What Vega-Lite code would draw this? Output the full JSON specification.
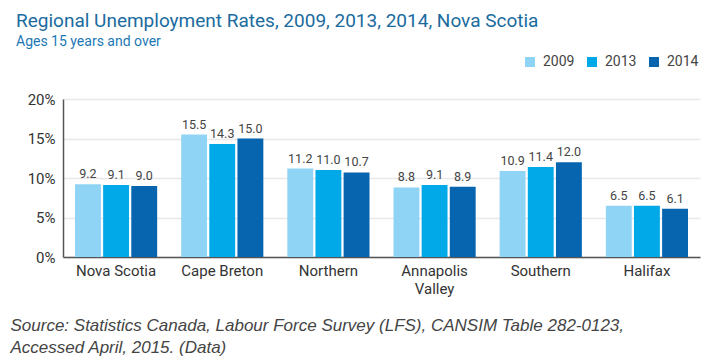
{
  "$schema": "https://vega.github.io/schema/vega-lite/v6.json",
  "autosize": {"type": "none"},
  "width": 637,
  "height": 158,
  "padding": {"left": 63, "top": 99, "right": 20, "bottom": 103},
  "background": "white",
  "title": {
    "text": "Regional Unemployment Rates, 2009, 2013, 2014, Nova Scotia",
    "subtitle": "Ages 15 years and over",
    "anchor": "start",
    "frame": "group",
    "dx": -47,
    "offset": 6,
    "font": "Roboto",
    "fontSize": 19,
    "fontWeight": "normal",
    "color": "#1a6b9e",
    "subtitleFont": "Roboto",
    "subtitleFontSize": 14,
    "subtitleColor": "#1c78b5",
    "subtitlePadding": 4
  },
  "config": {
    "view": {"stroke": null},
    "font": "Roboto"
  },
  "data": {
    "values": [
      {"region": "Nova Scotia", "year": "2009", "rate": 9.2},
      {"region": "Nova Scotia", "year": "2013", "rate": 9.1},
      {"region": "Nova Scotia", "year": "2014", "rate": 9.0},
      {"region": "Cape Breton", "year": "2009", "rate": 15.5},
      {"region": "Cape Breton", "year": "2013", "rate": 14.3},
      {"region": "Cape Breton", "year": "2014", "rate": 15.0},
      {"region": "Northern", "year": "2009", "rate": 11.2},
      {"region": "Northern", "year": "2013", "rate": 11.0},
      {"region": "Northern", "year": "2014", "rate": 10.7},
      {"region": "Annapolis Valley", "year": "2009", "rate": 8.8},
      {"region": "Annapolis Valley", "year": "2013", "rate": 9.1},
      {"region": "Annapolis Valley", "year": "2014", "rate": 8.9},
      {"region": "Southern", "year": "2009", "rate": 10.9},
      {"region": "Southern", "year": "2013", "rate": 11.4},
      {"region": "Southern", "year": "2014", "rate": 12.0},
      {"region": "Halifax", "year": "2009", "rate": 6.5},
      {"region": "Halifax", "year": "2013", "rate": 6.5},
      {"region": "Halifax", "year": "2014", "rate": 6.1}
    ]
  },
  "encoding": {
    "x": {
      "field": "region",
      "type": "nominal",
      "sort": null,
      "scale": {"paddingInner": 0.226, "paddingOuter": 0.113},
      "axis": {
        "title": ["Source: Statistics Canada, Labour Force Survey (LFS), CANSIM Table 282-0123,", "Accessed April, 2015. (Data)"],
        "titleFont": "Liberation Sans",
        "titleFontStyle": "italic",
        "titleFontWeight": "normal",
        "titleFontSize": 17,
        "titleColor": "#444444",
        "titleAnchor": "start",
        "titleAlign": "left",
        "titleBaseline": "alphabetic",
        "titleX": -53,
        "titleY": 73,
        "titleLineHeight": 22,
        "labelAngle": 0,
        "labelFontSize": 15,
        "labelColor": "#333333",
        "labelPadding": 6,
        "labelLineHeight": 18,
        "labelExpr": "datum.label == 'Annapolis Valley' ? ['Annapolis', 'Valley'] : datum.label",
        "ticks": false,
        "domainColor": "#555555",
        "domainWidth": 1.5
      }
    },
    "xOffset": {"field": "year", "type": "nominal", "scale": {"paddingInner": 0.08}},
    "y": {
      "field": "rate",
      "type": "quantitative",
      "scale": {"domain": [0, 20]},
      "axis": {
        "title": null,
        "values": [0, 5, 10, 15, 20],
        "labelExpr": "datum.value + '%'",
        "labelFontSize": 15,
        "labelColor": "#333333",
        "labelPadding": 8,
        "ticks": false,
        "domainColor": "#555555",
        "domainWidth": 1.5,
        "gridColor": "#e8e8e8",
        "gridWidth": 1.5
      }
    }
  },
  "layer": [
    {
      "mark": {"type": "bar"},
      "encoding": {
        "color": {
          "field": "year",
          "type": "nominal",
          "scale": {"domain": ["2009", "2013", "2014"], "range": ["#8fd3f5", "#02a9e9", "#0765b0"]},
          "legend": {
            "title": null,
            "orient": "none",
            "direction": "horizontal",
            "legendX": 460,
            "legendY": -44,
            "symbolType": "square",
            "symbolSize": 100,
            "symbolStrokeWidth": 0,
            "labelFontSize": 14,
            "labelColor": "#444444",
            "columnPadding": 10,
            "labelOffset": 6
          }
        }
      }
    },
    {
      "mark": {"type": "text", "dy": -10, "fontSize": 12.5, "color": "#444444"},
      "encoding": {
        "text": {"field": "rate", "type": "quantitative", "format": ".1f"}
      }
    }
  ]
}
